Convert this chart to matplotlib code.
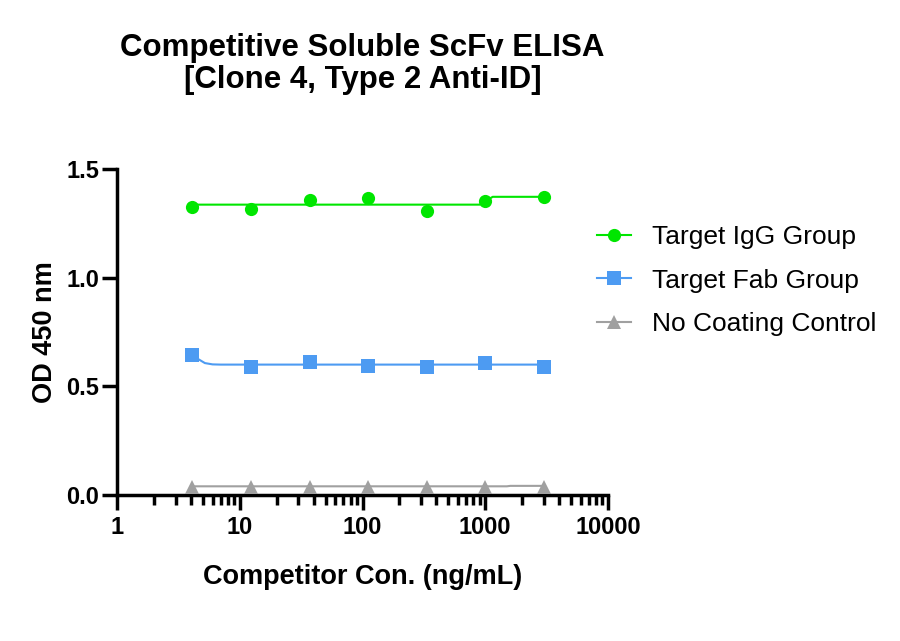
import matplotlib
matplotlib.use("Agg")
import matplotlib.pyplot as plt
from matplotlib.ticker import LogLocator, FixedLocator, FixedFormatter, NullFormatter

plt.rcParams['font.family'] = ['Liberation Sans', 'DejaVu Sans']

# Data
conc = [4.115, 12.35, 37.04, 111.1, 333.3, 1000, 3000]
igg = [1.327, 1.315, 1.359, 1.368, 1.307, 1.352, 1.371]
fab = [0.644, 0.590, 0.613, 0.594, 0.588, 0.606, 0.588]
ctrl = [0.038, 0.038, 0.038, 0.038, 0.038, 0.038, 0.038]

# Fitted curves
igg_fit_x = [4.115, 900, 1150, 3000]
igg_fit_y = [1.336, 1.336, 1.372, 1.372]
fab_fit_x = [4.115, 4.6, 5.2, 6.0, 7.0, 3000]
fab_fit_y = [0.644, 0.625, 0.607, 0.601, 0.600, 0.600]
ctrl_fit_x = [4.115, 1500, 1600, 3000]
ctrl_fit_y = [0.040, 0.040, 0.042, 0.042]

labels = ["Target IgG Group", "Target Fab Group", "No Coating Control"]
colors = ["#00E600", "#4D9BF2", "#A0A0A0"]
markers = ["o", "s", "^"]
xtick_vals = [1, 10, 100, 1000, 10000]
xtick_labels = ["1", "10", "100", "1000", "10000"]
ytick_vals = [0, 0.5, 1.0, 1.5]
ytick_labels = ["0.0", "0.5", "1.0", "1.5"]

fig = plt.figure(figsize=(9, 6.41), dpi=100)
ax = fig.add_axes([117/900, 1 - 495/641, (608-117)/900, (495-169)/641])

series = [(igg, igg_fit_x, igg_fit_y), (fab, fab_fit_x, fab_fit_y), (ctrl, ctrl_fit_x, ctrl_fit_y)]
handles = []
for (vals, fx, fy), lab, col, mk in zip(series, labels, colors, markers):
    ax.plot(fx, fy, color=col, lw=1.5, zorder=2)
    ax.plot(conc, vals, linestyle='none', marker=mk, color=col, markersize=9.5,
            markeredgewidth=0, zorder=3)
    h, = ax.plot([], [], color=col, lw=1.5, marker=mk, markersize=9.5, markeredgewidth=0, label=lab)
    handles.append(h)

ax.set_xscale('log')
ax.set_xlim(1, 10000)
ax.set_ylim(0, 1.5)
ax.xaxis.set_major_locator(FixedLocator(xtick_vals))
ax.xaxis.set_major_formatter(FixedFormatter(xtick_labels))
ax.xaxis.set_minor_locator(LogLocator(base=10, subs=range(2, 10), numticks=20))
ax.xaxis.set_minor_formatter(NullFormatter())
ax.set_yticks(ytick_vals)
ax.set_yticklabels(ytick_labels)

for s in ['top', 'right']:
    ax.spines[s].set_visible(False)
for s in ['left', 'bottom']:
    ax.spines[s].set_linewidth(2.5)
ax.tick_params(axis='both', which='major', length=11, width=2.5, labelsize=17)
ax.tick_params(axis='y', which='major', pad=2)
ax.tick_params(axis='x', which='major', pad=4)
ax.tick_params(axis='x', which='minor', length=7, width=2.5)
for t in ax.get_xticklabels() + ax.get_yticklabels():
    t.set_fontweight('bold')

ax.set_xlabel("Competitor Con. (ng/mL)", fontsize=19.5, fontweight='bold', labelpad=18)
ax.set_ylabel("OD 450 nm", fontsize=19.5, fontweight='bold', labelpad=6)
ax.set_title("Competitive Soluble ScFv ELISA\n[Clone 4, Type 2 Anti-ID]", fontsize=22.5,
             fontweight='bold', pad=58, linespacing=1.12)

fig.legend(handles=handles, loc='upper left', bbox_to_anchor=(0.637, 0.686), frameon=False,
           fontsize=19, handlelength=1.3, labelspacing=0.74, handletextpad=0.8)

fig.savefig("out.png", dpi=100)
